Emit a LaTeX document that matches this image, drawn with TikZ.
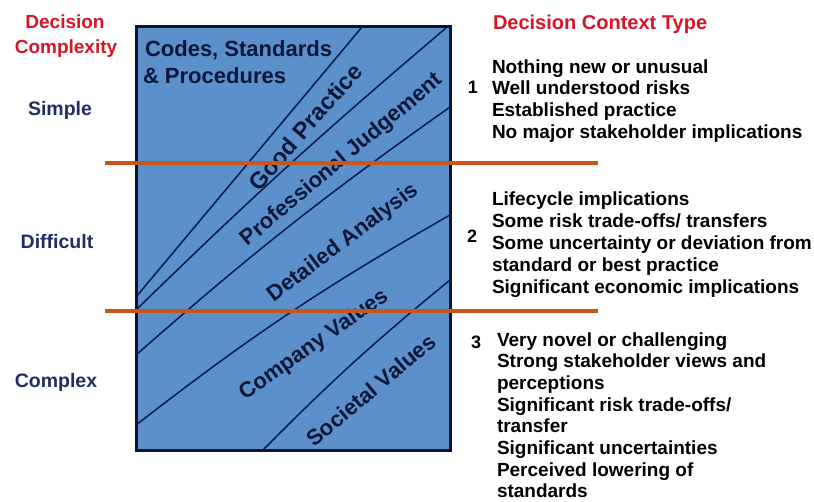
\documentclass[tikz,border=0pt]{standalone}
\usepackage{fontspec}
\setmainfont{Liberation Sans}
\definecolor{boxfill}{RGB}{92,144,205}
\definecolor{boxedge}{RGB}{12,20,45}
\definecolor{bandline}{RGB}{10,25,75}
\definecolor{orangeline}{RGB}{200,85,25}
\definecolor{headred}{RGB}{215,20,40}
\definecolor{levelblue}{RGB}{30,45,100}
\definecolor{boxtext}{RGB}{12,22,55}
\begin{document}
\begin{tikzpicture}[x=1pt,y=-1pt,
  every node/.style={inner sep=0pt,outer sep=0pt},
  headtxt/.style={font=\bfseries\fontsize{19}{22}\selectfont,text=headred},
  leveltxt/.style={font=\bfseries\fontsize{19.5}{22}\selectfont,text=levelblue,anchor=base},
  bandtxt/.style={font=\bfseries\fontsize{22}{24}\selectfont,text=boxtext},
  itemtxt/.style={font=\bfseries\fontsize{19}{22}\selectfont,text=black,anchor=base west},
  numtxt/.style={font=\bfseries\fontsize{18}{20}\selectfont,text=black,anchor=base},
  bandln/.style={draw=bandline,line width=1.5pt},
  orangeln/.style={draw=orangeline,line width=3.2pt}]
\useasboundingbox (0,0) rectangle (814,501);

% main box
\draw[fill=boxfill,draw=boxedge,line width=3pt] (136,26) rectangle (450,450);

% band boundaries
\coordinate (a1) at (362,27);  \coordinate (b1) at (136,297);
\coordinate (a2) at (446,28);  \coordinate (b2) at (136,310);
\coordinate (a3) at (450,107); \coordinate (b3) at (136,355);
\coordinate (a4) at (450,215); \coordinate (b4) at (136,425);
\coordinate (a5) at (450,280); \coordinate (b5) at (263,450);
\draw[bandln] (b1) -- (a1);
\draw[bandln] (b2) to[bend left=2] (a2);
\draw[bandln] (b3) to[bend left=3] (a3);
\draw[bandln] (b4) to[bend left=4] (a4);
\draw[bandln] (b5) to[bend left=3] (a5);

% labels inside box
\node[bandtxt,anchor=base west] (codes1) at (145,56) {Codes, Standards};
\node[bandtxt,anchor=base west] (codes2) at (143,83) {\& Procedures};
\node[bandtxt,font=\bfseries\fontsize{23.5}{24}\selectfont,rotate=49] (good) at (305,127) {Good Practice};
\node[bandtxt,rotate=40] (prof) at (342,160) {Professional Judgement};
\node[bandtxt,rotate=37] (detail) at (343,243) {Detailed Analysis};
\node[bandtxt,rotate=35] (company) at (314,345) {Company Values};
\node[bandtxt,rotate=40] (societal) at (371,390) {Societal Values};

% orange dividers
\coordinate (o1l) at (105,163); \coordinate (o1r) at (598,163);
\coordinate (o2l) at (105,311); \coordinate (o2r) at (598,311);
\draw[orangeln] (o1l) -- (o1r);
\draw[orangeln] (o2l) -- (o2r);

% left column
\node[headtxt,anchor=base] (dc1) at (65,28) {Decision};
\node[headtxt,anchor=base] (dc2) at (66,53) {Complexity};
\node[leveltxt] (simple) at (60,115) {Simple};
\node[leveltxt] (difficult) at (57,248) {Difficult};
\node[leveltxt] (complex) at (56,387) {Complex};

% right column
\node[headtxt,font=\bfseries\fontsize{20}{22}\selectfont,anchor=base west] (ctx) at (493,29) {Decision Context Type};

\node[numtxt] (n1) at (473,93) {1};
\foreach \t [count=\i from 0] in {Nothing new or unusual,Well understood risks,Established practice,No major stakeholder implications}
  \node[itemtxt] (g1-\i) at (492,73+21.8*\i) {\t};

\node[numtxt] (n2) at (472,242) {2};
\foreach \t [count=\i from 0] in {Lifecycle implications,Some risk trade-offs/ transfers,Some uncertainty or deviation from,standard or best practice,Significant economic implications}
  \node[itemtxt] (g2-\i) at (492,205+22*\i) {\t};

\node[numtxt] (n3) at (476,348) {3};
\foreach \t [count=\i from 0] in {Very novel or challenging,Strong stakeholder views and,perceptions,Significant risk trade-offs/,transfer,Significant uncertainties,Perceived lowering of,standards}
  \node[itemtxt] (g3-\i) at (497,346+21.7*\i) {\t};
\end{tikzpicture}
\end{document}
